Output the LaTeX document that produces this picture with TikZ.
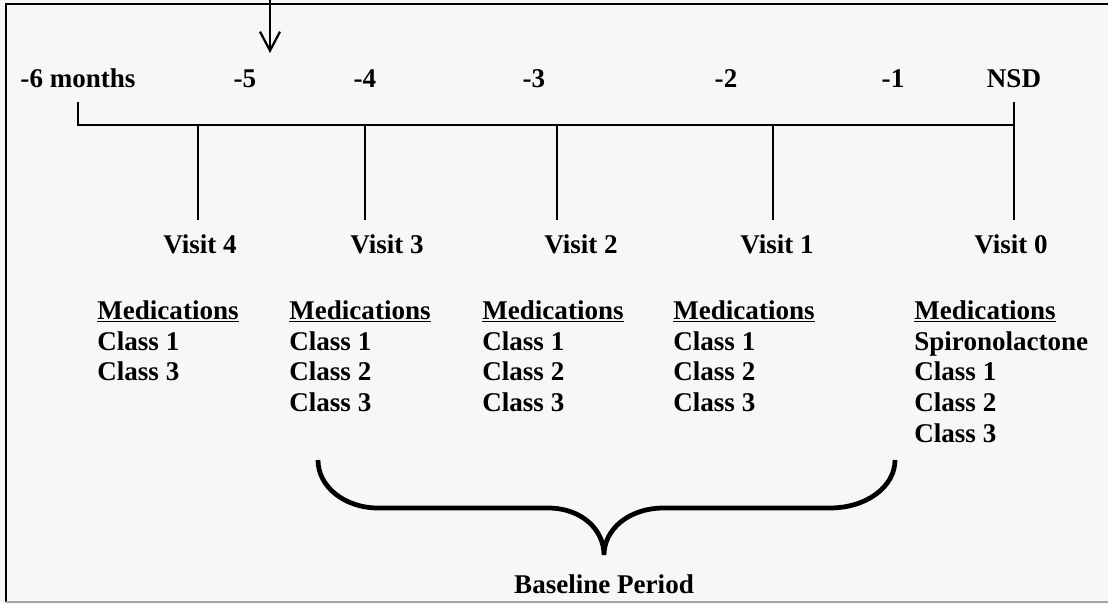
\documentclass[tikz,border=0pt]{standalone}
\usepackage{fontspec}
\setmainfont{Liberation Serif}
\usetikzlibrary{arrows.meta}

\begin{document}
\begin{tikzpicture}[
    x=0.02cm, y=-0.02cm,
    lbl/.style={anchor=base, inner sep=0pt, font=\fontsize{15.4}{17.6}\selectfont\bfseries},
    meds/.style={anchor=north west, inner sep=0pt, align=left, font=\fontsize{15.4}{17.6}\selectfont\bfseries},
    vline/.style={line width=1.25pt}
]
    % background and frame
    \fill[black!3] (0,0) rectangle (1108,604);
    \useasboundingbox (0,0) rectangle (1108,604);
    \draw[vline] (1108,4) -- (6,4) -- (6,602);
    \draw[black!35, line width=1.2pt] (6,602) -- (1108,602);

    % arrow from above
    \coordinate (arrtop) at (270,-5);
    \coordinate (arrtip) at (270,53);
    \draw[vline, -{Straight Barb[length=0.38cm, width=0.4cm]}] (arrtop) -- (arrtip);

    % months
    \node[lbl] (m6) at (78,88) {-6 months};
    \node[lbl] (m5) at (245,88) {-5};
    \node[lbl] (m4) at (365,88) {-4};
    \node[lbl] (m3) at (534,88) {-3};
    \node[lbl] (m2) at (726,88) {-2};
    \node[lbl] (m1) at (893,88) {-1};
    \node[lbl] (nsd) at (1014,88) {NSD};

    % time line
    \coordinate (starttop) at (78,102);
    \coordinate (start) at (78,125);
    \coordinate (end) at (1014,125);
    \coordinate (endtop) at (1014,102);
    \draw[vline] (starttop) -- (start) -- (end) -- (endtop);

    % visits
    \foreach \x/\n in {198/4, 365/3, 557/2, 773/1, 1014/0} {
        \coordinate (v\n top) at (\x,125);
        \coordinate (v\n bot) at (\x,220);
        \draw[vline] (v\n top) -- (v\n bot);
    }
    \foreach \x/\n in {200/4, 387/3, 581/2, 777/1, 1011/0}
        \node[lbl] (visit\n) at (\x,254) {Visit \n};

    % medications
    \node[meds] (med4) at (97,300) {\underline{Medications}\\Class 1\\Class 3};
    \node[meds] (med3) at (289,300) {\underline{Medications}\\Class 1\\Class 2\\Class 3};
    \node[meds] (med2) at (482,300) {\underline{Medications}\\Class 1\\Class 2\\Class 3};
    \node[meds] (med1) at (673,300) {\underline{Medications}\\Class 1\\Class 2\\Class 3};
    \node[meds] (med0) at (914,300) {\underline{Medications}\\Spironolactone\\Class 1\\Class 2\\Class 3};

    % baseline brace
    \draw[line width=2.7pt] (318,460) .. controls (318,487) and (345,508) .. (378,508)
        -- (548,508) .. controls (582,508) and (604,530) .. (604,555)
        .. controls (604,530) and (628,508) .. (664,508)
        -- (830,508) .. controls (866,508) and (895,487) .. (895,460);
    \node[lbl] (base) at (604,593) {Baseline Period};
\end{tikzpicture}
\end{document}
